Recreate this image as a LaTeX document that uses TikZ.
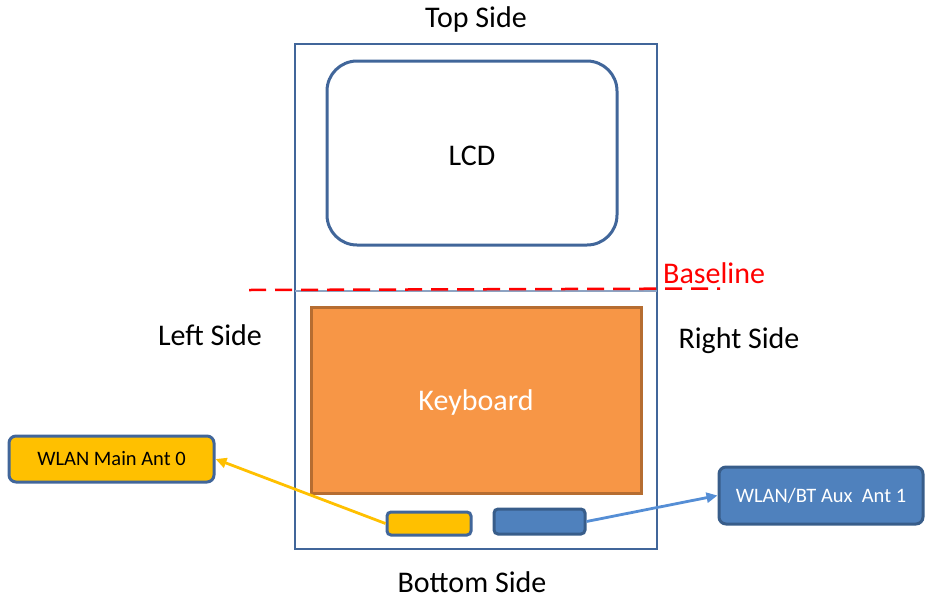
\documentclass[tikz,border=0pt]{standalone}
\usepackage{fontspec}
\setmainfont{Carlito}
\usetikzlibrary{arrows.meta}
\definecolor{frame}{HTML}{41669A}
\definecolor{kbfill}{HTML}{F79646}
\definecolor{kbline}{HTML}{B66D31}
\definecolor{antY}{HTML}{FFC000}
\definecolor{antB}{HTML}{4F81BD}
\definecolor{antBline}{HTML}{385D8A}
\definecolor{arrB}{HTML}{558ED5}
\begin{document}
\begin{tikzpicture}[x=1pt,y=-1pt,
  lbl/.style={font=\fontsize{30}{33}\selectfont, inner sep=0pt},
  antbox/.style={draw=frame, line width=3pt, rounded corners=7pt, inner sep=0pt, font=\fontsize{20.5}{22}\selectfont},
  smallant/.style={draw=frame, line width=3pt, rounded corners=4pt, inner sep=0pt},
  conn/.style={line width=2.8pt, -{Triangle[length=11pt,width=10pt]}}
]
\useasboundingbox (0,0) rectangle (926,603);
% outer frame
\node[draw=frame, line width=2.6pt, minimum width=362pt, minimum height=505pt, inner sep=0pt] (outer) at (476,296.5) {};
% LCD
\node[draw=frame, line width=3pt, rounded corners=30pt, minimum width=290pt, minimum height=184pt, inner sep=0pt, fill=white] (lcd) at (472,153) {};
\node[lbl] (lcdt) at (472,156) {LCD};
% baseline
\draw[frame!60, line width=1.2pt] (295,291) -- (657,291);
\coordinate (bl1) at (249,290);
\coordinate (bl2) at (720,288.5);
\draw[red, line width=2.5pt, dash pattern=on 17pt off 9pt] (bl1) -- (bl2);
\node[lbl, text=red, anchor=west] (blt) at (663,273) {Baseline};
% keyboard
\node[draw=kbline, fill=kbfill, line width=3pt, minimum width=330pt, minimum height=186pt, inner sep=0pt] (kb) at (476,400) {};
\node[lbl, text=white] (kbt) at (476,402) {Keyboard};
% side labels
\node[lbl] (top) at (476,19) {Top Side};
\node[lbl] (bottom) at (472,582) {Bottom Side};
\node[lbl] (left) at (210,335) {Left Side};
\node[lbl] (right) at (739,341) {Right Side};
% small antennas
\node[smallant, fill=antY, minimum width=84pt, minimum height=23pt] (ya) at (429,523.5) {};
\node[smallant, fill=antB, draw=antBline, minimum width=91pt, minimum height=25pt] (ba) at (539.5,521.5) {};
% antenna labels
\node[antbox, fill=antY, minimum width=205pt, minimum height=46pt] (main) at (111.5,459) {WLAN Main Ant 0};
\node[antbox, fill=antB, draw=antBline, text=white, minimum width=204pt, minimum height=57pt] (aux) at (821,495.5) {WLAN/BT Aux\ \ Ant 1};
% connectors
\draw[conn, antY] (ya.west) -- (main.east);
\draw[conn, arrB] (ba.east) -- (aux.west);
\end{tikzpicture}
\end{document}
